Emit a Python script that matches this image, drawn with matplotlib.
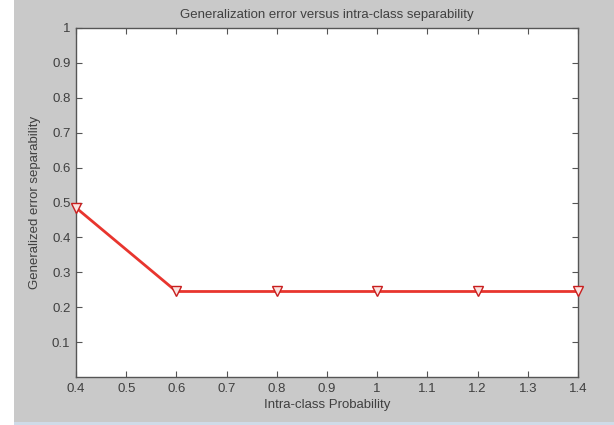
import matplotlib
matplotlib.use('Agg')
import matplotlib.pyplot as plt
from matplotlib.patches import Rectangle

# data
probability = [0.4, 0.6, 0.8, 1.0, 1.2, 1.4]
gen_error = [0.485, 0.245, 0.245, 0.245, 0.245, 0.245]
x_ticks = [0.4, 0.5, 0.6, 0.7, 0.8, 0.9, 1, 1.1, 1.2, 1.3, 1.4]
x_labels = ['0.4', '0.5', '0.6', '0.7', '0.8', '0.9', '1', '1.1', '1.2', '1.3', '1.4']
y_ticks = [0.1, 0.2, 0.3, 0.4, 0.5, 0.6, 0.7, 0.8, 0.9, 1]
y_labels = ['0.1', '0.2', '0.3', '0.4', '0.5', '0.6', '0.7', '0.8', '0.9', '1']

plt.rcParams['font.family'] = ['Liberation Sans', 'DejaVu Sans']
txt = '#404040'

W, H = 614, 425
fig = plt.figure(figsize=(W / 100, H / 100), dpi=100)
fig.patch.set_facecolor('white')
# matlab-ish grey window background + thin blue strip at bottom
fig.patches.append(Rectangle((14 / W, 3 / H), 1 - 14 / W, 1 - 3 / H,
                             transform=fig.transFigure, facecolor='#c9c9c9',
                             edgecolor='none', zorder=-1))
fig.patches.append(Rectangle((14 / W, 0), 1 - 14 / W, 3 / H,
                             transform=fig.transFigure, facecolor='#cfdbe8',
                             edgecolor='none', zorder=-1))

# axes box: x 76..578, y 28..377 (pixels)
ax = fig.add_axes([76 / W, (H - 377) / H, 502 / W, 349 / H])
ax.set_facecolor('white')

ax.plot(probability, gen_error, color='#e8352e', linewidth=2.0,
        marker='v', markersize=7, markerfacecolor='#fbe3e0',
        markeredgecolor='#c81e1e', markeredgewidth=1.0, zorder=3,
        clip_on=False)

ax.set_xlim(0.4, 1.4)
ax.set_ylim(0, 1)
ax.set_xticks(x_ticks)
ax.set_xticklabels(x_labels)
ax.set_yticks(y_ticks)
ax.set_yticklabels(y_labels)
ax.tick_params(direction='in', top=True, right=True, length=4, width=0.8,
               colors='#555555', labelcolor=txt, labelsize=9.5, pad=4)
for s in ax.spines.values():
    s.set_color('#555555')
    s.set_linewidth(1.0)

ax.set_title('Generalization error versus intra-class separability',
             fontsize=9.5, color=txt, pad=7)
ax.set_xlabel('Intra-class Probability', fontsize=9.5, color=txt, labelpad=3)
ax.set_ylabel('Generalized error separability', fontsize=9.5, color=txt, labelpad=8)

fig.savefig('out.png', dpi=100)
